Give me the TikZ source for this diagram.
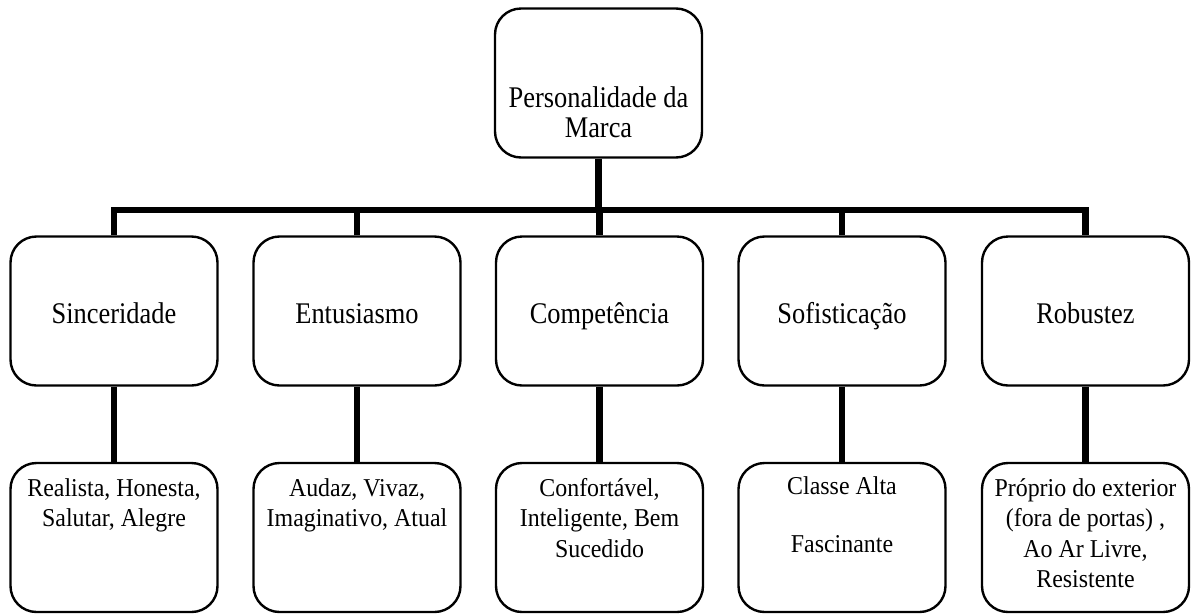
\documentclass[tikz,border=0pt]{standalone}
\usepackage{fontspec}
\setmainfont{Liberation Serif}
\newfontfamily\midfont[FakeStretch=0.88]{Liberation Serif}
\newfontfamily\lowfont[FakeStretch=0.93]{Liberation Serif}
\lineskiplimit=-100pt
\begin{document}
\begin{tikzpicture}[x=1pt,y=-1pt,
  box/.style={draw=black,line width=2.4pt,rounded corners=26pt,minimum width=207pt,minimum height=149pt,inner sep=0pt,fill=white},
  midtxt/.style={font=\midfont\fontsize{30}{30}\selectfont,align=center,inner sep=0pt,anchor=base},
  lowtxt/.style={font=\lowfont\fontsize{25.7}{30.5}\selectfont,align=center,inner sep=0pt,anchor=base},
  conn/.style={line width=6.5pt,line join=miter,line cap=butt}]
\useasboundingbox[fill=white] (0,0) rectangle (1192,614);
% boxes
\node[box] (top) at (598.5,83) {};
\foreach \i/\x in {1/114,2/357,3/599.5,4/842,5/1085.5}{
  \node[box] (m\i) at (\x,311) {};
  \node[box] (b\i) at (\x,537.5) {};
}
% connectors
\coordinate (bar) at (598.5,210);
\draw[conn] (top.south) -- (bar);
\draw[conn] (m1.north) -- (m1.north |- bar) -- (m5.north |- bar) -- (m5.north);
\foreach \i in {2,3,4}{\draw[conn] (m\i.north) -- (m\i.north |- bar);}
\foreach \i in {1,...,5}{\draw[conn] (m\i.south) -- (b\i.north);}
% texts (anchor base = baseline of last line)
\node[midtxt] (ttop) at (598.5,137) {Personalidade da\\Marca};
\node[midtxt] (t1) at (114,323) {Sinceridade};
\node[midtxt] (t2) at (357,323) {Entusiasmo};
\node[midtxt] (t3) at (599.5,323) {Competência};
\node[midtxt] (t4) at (842,323) {Sofisticação};
\node[midtxt] (t5) at (1085.5,323) {Robustez};
\node[lowtxt] (u1) at (114,526.5) {Realista, Honesta,\\Salutar, Alegre};
\node[lowtxt] (u2) at (357,526.5) {Audaz, Vivaz,\\Imaginativo, Atual};
\node[lowtxt] (u3) at (599.5,557) {Confortável,\\Inteligente, Bem\\Sucedido};
\node[lowtxt] (u4) at (842,552) {Classe Alta\\[27.5pt]Fascinante};
\node[lowtxt] (u5) at (1085.5,587.5) {Próprio do exterior\\(fora de portas) ,\\Ao Ar Livre,\\Resistente};
\end{tikzpicture}
\end{document}
